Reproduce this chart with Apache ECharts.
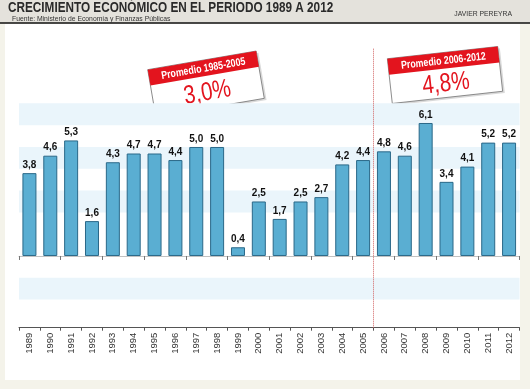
<!DOCTYPE html>
<html><head><meta charset="utf-8">
<script src="https://cdn.jsdelivr.net/npm/echarts@6/dist/echarts.min.js"></script>
<style>html,body{margin:0;padding:0;background:#f4f3ea;}#c{width:530px;height:389px;}</style>
</head><body><div id="c"></div>
<script>
const years = ['1989','1990','1991','1992','1993','1994','1995','1996','1997','1998','1999','2000','2001','2002','2003','2004','2005','2006','2007','2008','2009','2010','2011','2012'];
const growth = [3.8,4.6,5.3,1.6,4.3,4.7,4.7,4.4,5.0,5.0,0.4,2.5,1.7,2.5,2.7,4.2,4.4,4.8,4.6,6.1,3.4,4.1,5.2,5.2];
const bandRanges = [[-2,-1],[2,3],[4,5],[6,7]];
const dividerIndex = 17; // boundary between 2005 and 2006
const avgBoxes = [
  {title:'Promedio 1985-2005', value:'3,0%'},
  {title:'Promedio 2006-2012', value:'4,8%'}
];
const FONT = '"Liberation Sans", Arial, sans-serif';
const chart = echarts.init(document.getElementById('c'));
function box(b, x, y, w, h, rot){
  return {type:'group', x:x, y:y, rotation:rot, z:100, children:[
    {type:'rect', shape:{x:-w/2+2, y:-h/2+2, width:w, height:h}, style:{fill:'rgba(0,0,0,0.15)'}},
    {type:'rect', shape:{x:-w/2, y:-h/2, width:w, height:h}, style:{fill:'#fff', stroke:'#777', lineWidth:0.8}},
    {type:'rect', shape:{x:-w/2, y:-h/2, width:w, height:16}, style:{fill:'#e3141e'}},
    {type:'text', x:0, y:-h/2+8.5, scaleX:0.8, style:{text:b.title, fill:'#fff', font:'bold 11px '+FONT, textAlign:'center', textVerticalAlign:'middle'}},
    {type:'text', x:0, y:-h/2+16+(h-16)/2+1, scaleX:0.8, style:{text:b.value, fill:'#e3141e', font:'26px '+FONT, textAlign:'center', textVerticalAlign:'middle'}}
  ]};
}
chart.setOption({
  animation:false,
  backgroundColor:'#f4f3ea',
  graphic:[
    {type:'rect', shape:{x:5, y:24, width:515, height:356}, style:{fill:'#fff'}, z:-10},
    {type:'rect', shape:{x:0, y:0, width:530, height:23}, style:{fill:'#e4e2dc'}, z:-10},
    {type:'line', shape:{x1:0, y1:23, x2:530, y2:23}, style:{stroke:'#111', lineWidth:1.5}, z:-9},
    {type:'text', x:8, y:1.5, scaleX:0.84, style:{text:'CRECIMIENTO ECONÓMICO EN EL PERIODO 1989 A 2012', fill:'#2a2a2a', font:'bold 14px '+FONT}},
    {type:'text', x:12, y:15, scaleX:0.85, style:{text:'Fuente: Ministerio de Economía y Finanzas Públicas', fill:'#333', font:'8px '+FONT}},
    {type:'text', x:512, y:10, scaleX:0.85, style:{text:'JAVIER PEREYRA', fill:'#333', font:'8px '+FONT, textAlign:'right'}},
    box(avgBoxes[0], 206, 84, 110, 48, 0.17),
    box(avgBoxes[1], 445, 75, 111, 45, 0.11)
  ],
  grid:{left:19, right:10.5, top:48, bottom:61.3},
  xAxis:[
    {type:'category', data:years, position:'bottom', axisLine:{onZero:false, lineStyle:{color:'#555', width:1}},
     axisTick:{show:true, length:3, lineStyle:{color:'#555'}},
     axisLabel:{rotate:90, fontSize:9.5, color:'#333', margin:5, fontFamily:FONT}},
    {type:'category', data:years, position:'bottom', axisLine:{onZero:true, lineStyle:{color:'#999', width:0.6}},
     axisTick:{show:true, length:4, lineStyle:{color:'#777'}}, axisLabel:{show:false}},
    {type:'value', min:0, max:years.length, show:false}
  ],
  yAxis:{type:'value', min:-3.29, max:9.54, show:false, splitLine:{show:false}},
  series:[
    {type:'bar', xAxisIndex:0, data:growth, barWidth:14,
     itemStyle:{color:'#5aaed2', borderColor:'#2a6888', borderWidth:1},
     label:{show:true, position:'top', distance:3, color:'#111', fontWeight:'bold', fontSize:10, fontFamily:FONT,
       formatter:p=>p.value.toFixed(1).replace('.',',')},
     markArea:{silent:true, itemStyle:{color:'#eaf5fb'}, data:bandRanges.map(r=>[{yAxis:r[0]},{yAxis:r[1]}])},
     z:2},
    {type:'line', xAxisIndex:2, data:[[dividerIndex,0]], showSymbol:false, symbolSize:0, lineStyle:{opacity:0},
     markLine:{silent:true, symbol:'none', label:{show:false}, lineStyle:{color:'#d06060', type:'dotted', width:1},
       data:[{xAxis:dividerIndex}]}}
  ]
});
</script></body></html>
